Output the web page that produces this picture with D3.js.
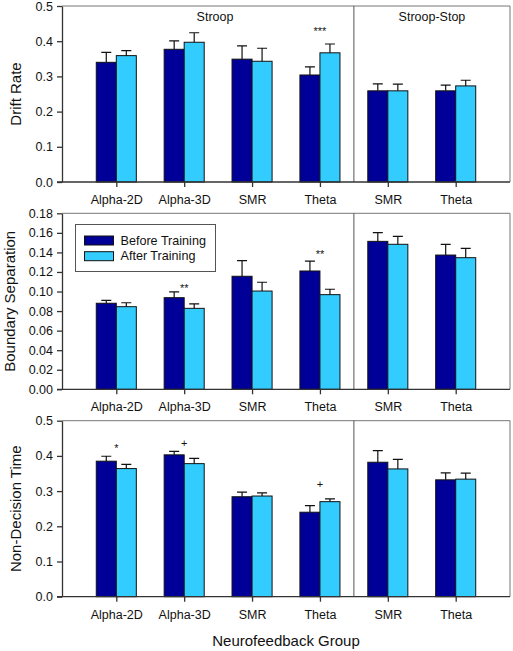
<!DOCTYPE html>
<html>
<head>
<meta charset="utf-8">
<script src="https://cdn.jsdelivr.net/npm/d3@7"></script>
<style>
  html, body { margin: 0; padding: 0; background: #fff; }
  svg { display: block; font-family: "Liberation Sans", Arial, sans-serif; }
</style>
</head>
<body>
<svg id="chart" width="513" height="651"></svg>
<script>
// ---------------- data ----------------
const groups = ["Alpha-2D", "Alpha-3D", "SMR", "Theta", "SMR", "Theta"];
const sections = ["Stroop", "Stroop-Stop"];
const seriesNames = ["Before Training", "After Training"];
const xTitle = "Neurofeedback Group";

const driftBefore    = [0.340, 0.377, 0.349, 0.304, 0.259, 0.259];
const driftBeforeErr = [0.028, 0.024, 0.038, 0.023, 0.020, 0.016];
const driftAfter     = [0.359, 0.397, 0.343, 0.367, 0.259, 0.273];
const driftAfterErr  = [0.014, 0.027, 0.037, 0.025, 0.019, 0.016];

const boundBefore    = [0.088, 0.0937, 0.1156, 0.121, 0.1513, 0.1373];
const boundBeforeErr = [0.003, 0.006, 0.016, 0.010, 0.009, 0.011];
const boundAfter     = [0.0845, 0.0828, 0.1005, 0.0968, 0.1483, 0.1346];
const boundAfterErr  = [0.004, 0.0045, 0.009, 0.0055, 0.008, 0.0096];

const ndtBefore      = [0.385, 0.403, 0.284, 0.240, 0.382, 0.332];
const ndtBeforeErr   = [0.014, 0.010, 0.013, 0.019, 0.033, 0.020];
const ndtAfter       = [0.364, 0.378, 0.286, 0.270, 0.363, 0.334];
const ndtAfterErr    = [0.012, 0.015, 0.009, 0.008, 0.027, 0.017];

const panelTitles = ["Drift Rate", "Boundary Separation", "Non-Decision Time"];
const panelMax    = [0.5, 0.18, 0.5];
const panelStep   = [0.1, 0.02, 0.1];
const panelFormat = [".1f", ".2f", ".1f"];

// significance markers: panel index, group index, label, value (baseline)
const sigPanel = [0, 1, 1, 2, 2, 2];
const sigGroup = [3, 1, 3, 0, 1, 3];
const sigText  = ["***", "**", "**", "*", "+", "+"];
const sigValue = [0.418, 0.0995, 0.134, 0.411, 0.424, 0.309];

// ---------------- layout ----------------
const colors = ["#000099", "#33ccff"];
const left = 62, right = 510;
const panelTop = [6, 213.3, 420.7];
const panelBottom = [182, 389.3, 596.7];

const svg = d3.select("#chart");
svg.append("rect").attr("width", 513).attr("height", 651).attr("fill", "#fff");

const x = d3.scalePoint().domain(d3.range(groups.length)).range([left, right]).padding(0.8);
const step = x.step();
const inner = d3.scaleBand().domain([0, 1]).range([-0.295 * step, 0.295 * step]).padding(0);
const dividerX = (x(3) + x(4)) / 2;

const panelData = [
  [[driftBefore, driftBeforeErr], [driftAfter, driftAfterErr]],
  [[boundBefore, boundBeforeErr], [boundAfter, boundAfterErr]],
  [[ndtBefore, ndtBeforeErr], [ndtAfter, ndtAfterErr]]
];

panelData.forEach((pd, p) => {
  const g = svg.append("g");
  const y = d3.scaleLinear().domain([0, panelMax[p]]).range([panelBottom[p], panelTop[p]]);

  // frame top & right
  g.append("path")
    .attr("d", `M${left},${panelTop[p]}H${right}V${panelBottom[p]}`)
    .attr("fill", "none").attr("stroke", "#777").attr("stroke-width", 1);
  // divider
  g.append("line")
    .attr("x1", dividerX).attr("x2", dividerX)
    .attr("y1", panelTop[p]).attr("y2", panelBottom[p])
    .attr("stroke", "#555").attr("stroke-width", 1);

  // bars
  pd.forEach((s, si) => {
    const vals = s[0], errs = s[1];
    const bw = inner.bandwidth();
    g.selectAll(null).data(vals).enter().append("rect")
      .attr("x", (d, i) => x(i) + inner(si))
      .attr("y", d => y(d))
      .attr("width", bw)
      .attr("height", d => y(0) - y(d))
      .attr("fill", colors[si])
      .attr("stroke", "#111").attr("stroke-width", 1);
    // error bars
    g.selectAll(null).data(vals).enter().append("path")
      .attr("d", (d, i) => {
        const cx = x(i) + inner(si) + bw / 2;
        const yt = y(d + errs[i]);
        return `M${cx},${y(d)}V${yt}M${cx - 5},${yt}H${cx + 5}`;
      })
      .attr("fill", "none").attr("stroke", "#111").attr("stroke-width", 1.2);
  });

  // axes
  const yAxis = d3.axisLeft(y)
    .tickValues(d3.range(0, panelMax[p] + panelStep[p] / 2, panelStep[p]))
    .tickFormat(d3.format(panelFormat[p]))
    .tickSize(5).tickSizeOuter(0).tickPadding(4);
  const ya = g.append("g").attr("transform", `translate(${left},0)`).call(yAxis);
  ya.selectAll("text").attr("font-size", 12.5).attr("fill", "#111");
  ya.selectAll("line, path").attr("stroke", "#333").attr("stroke-width", 1.3);

  const xAxis = d3.axisBottom(x).tickFormat(i => groups[i])
    .tickSize(5).tickSizeOuter(0).tickPadding(8);
  const xa = g.append("g").attr("transform", `translate(0,${panelBottom[p]})`).call(xAxis);
  xa.select(".domain").attr("d", `M${left - 5},0H${right}`);
  xa.selectAll("text").attr("font-size", 12.5).attr("fill", "#111");
  xa.selectAll("line, path").attr("stroke", "#333").attr("stroke-width", 1.3);

  // y title
  const cy = (panelTop[p] + panelBottom[p]) / 2;
  const tx = p === 1 ? 15 : 21;
  g.append("text")
    .attr("transform", `translate(${tx},${cy}) rotate(-90)`)
    .attr("text-anchor", "middle").attr("font-size", 15).attr("fill", "#111")
    .text(panelTitles[p]);

  // significance markers
  sigPanel.forEach((sp, k) => {
    if (sp !== p) return;
    g.append("text")
      .attr("x", x(sigGroup[k])).attr("y", y(sigValue[k]))
      .attr("text-anchor", "middle").attr("font-size", 11).attr("fill", "#111")
      .text(sigText[k]);
  });

  // section labels on top panel
  if (p === 0) {
    g.append("text").attr("x", 215).attr("y", panelTop[p] + 14.5)
      .attr("text-anchor", "middle").attr("font-size", 12.5).attr("fill", "#111")
      .text(sections[0]);
    g.append("text").attr("x", (dividerX + right) / 2).attr("y", panelTop[p] + 14.5)
      .attr("text-anchor", "middle").attr("font-size", 12.5).attr("fill", "#111")
      .text(sections[1]);
  }

  // legend on middle panel
  if (p === 1) {
    const lg = g.append("g");
    lg.append("rect").attr("x", 75.5).attr("y", 224.5).attr("width", 140).attr("height", 47)
      .attr("fill", "#fff").attr("stroke", "#555").attr("stroke-width", 1);
    seriesNames.forEach((nm, si) => {
      lg.append("rect").attr("x", 84.5).attr("y", 236 + si * 15.7).attr("width", 29).attr("height", 9)
        .attr("fill", colors[si]).attr("stroke", "#111").attr("stroke-width", 1);
      lg.append("text").attr("x", 120.5).attr("y", 245 + si * 15.3)
        .attr("font-size", 12.6).attr("fill", "#111").text(nm);
    });
  }
});

// x title
svg.append("text")
  .attr("x", (left + right) / 2).attr("y", 645.5)
  .attr("text-anchor", "middle").attr("font-size", 15).attr("fill", "#111")
  .text(xTitle);
</script>
</body>
</html>
